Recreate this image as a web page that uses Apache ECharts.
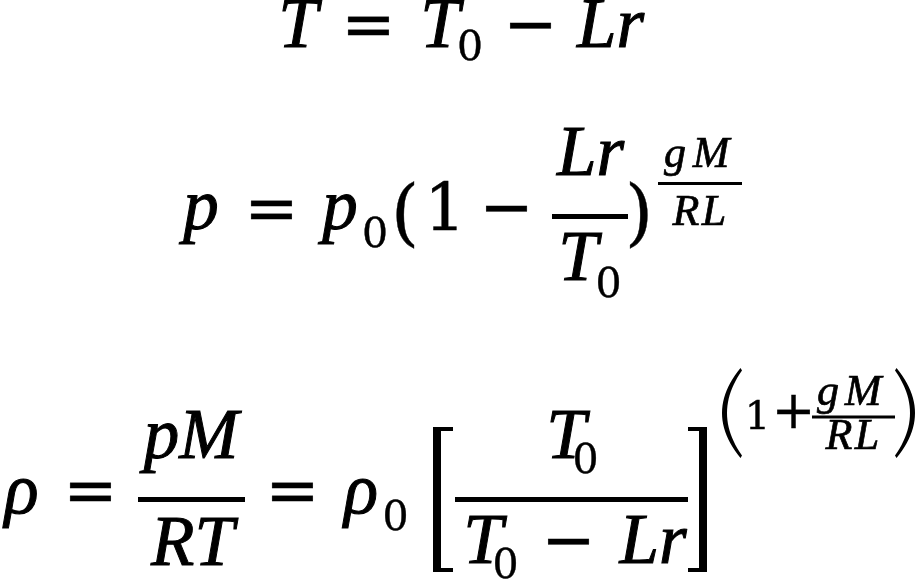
<!DOCTYPE html>
<html>
<head>
<meta charset="utf-8">
<script src="https://cdn.jsdelivr.net/npm/echarts@6/dist/echarts.min.js"></script>
<style>
  html, body { margin: 0; padding: 0; background: #fff; }
  #main { width: 920px; height: 587px; }
</style>
</head>
<body>
<div id="main"></div>
<script>
// symbols of each formula, in reading order
const eq1 = ['T', '=', 'T', '0', '−', 'Lr']
const eq2 = ['p', '=', 'p', '0', '(', '1', '−', 'Lr', 'T', '0', ')', 'g', 'M', 'R', 'L']
const eq3 = ['ρ', '=', 'pM', 'RT', '=', 'ρ', '0', 'T', '0', 'T', '0', '−', 'Lr', '1', '+', 'g', 'M', 'R', 'L']

// italic letters: Liberation Serif, upright digits/operators: DejaVu Serif
const IT = { family: '"Liberation Serif"', k: 0.3375, main: 71, exp: 44 }
const UP = { family: '"DejaVu Serif"', k: 0.346, main: 65, sub: 41, exp: 40 }

// one glyph group, x = centre, base = baseline
function t(str, x, base, size, italic) {
  const f = italic ? IT : UP
  return {
    type: 'text',
    x: x,
    y: base - f.k * size,
    style: {
      text: str,
      font: (italic ? 'italic ' : '') + size + 'px ' + f.family,
      fill: '#000',
      stroke: '#000',
      lineWidth: italic ? (size > 50 ? 1 : 0.7) : 0.4,
      align: 'center',
      verticalAlign: 'middle',
      textAlign: 'center',
      textVerticalAlign: 'middle',
    },
  }
}

// fraction line
function bar(x0, x1, cy, th) {
  return {
    type: 'rect',
    shape: { x: x0, y: cy - th / 2, width: x1 - x0, height: th },
    style: { fill: '#000' },
  }
}

// stretched paren, as a filled crescent
function paren(x0, x1, top, bot, w, right) {
  const mid = (top + bot) / 2
  const pts = []
  const n = 24
  const q = (a, c, b, s) => (1 - s) * (1 - s) * a + 2 * s * (1 - s) * c + s * s * b
  const ox = x1 - 1.5
  for (let i = 0; i <= n; i++) {
    const s = i / n
    pts.push([q(ox, 2 * x0 - ox, ox, s), q(top, mid, bot, s)])
  }
  const ix = x1
  for (let i = n; i >= 0; i--) {
    const s = i / n
    pts.push([q(ix, 2 * (x0 + w) - ix, ix, s), q(top + 2.5, mid, bot - 2.5, s)])
  }
  if (right) {
    pts.forEach(p => { p[0] = x0 + x1 - p[0] })
  }
  return { type: 'polygon', shape: { points: pts }, style: { fill: '#000' } }
}

// stretched square bracket
function bracket(x0, x1, top, bot, right) {
  const sw = 8
  const aw = 4
  const vx = right ? x1 - sw : x0
  return [
    { type: 'rect', shape: { x: vx, y: top, width: sw, height: bot - top }, style: { fill: '#000' } },
    { type: 'rect', shape: { x: x0, y: top, width: x1 - x0, height: aw }, style: { fill: '#000' } },
    { type: 'rect', shape: { x: x0, y: bot - aw, width: x1 - x0, height: aw }, style: { fill: '#000' } },
  ]
}

const M = IT.main
const E = IT.exp
const els = []

// T = T0 - Lr
els.push(
  t(eq1[0], 298, 52, M, true),
  t(eq1[1], 368.5, 52, UP.main),
  t(eq1[2], 440, 52, M, true),
  t(eq1[3], 470, 64, UP.sub),
  t(eq1[4], 530.5, 52, UP.main),
  t(eq1[5], 610.5, 52, M, true)
)

// p = p0 (1 - Lr/T0)^(gM/RL)
els.push(
  t(eq2[0], 201, 234, M, true),
  t(eq2[1], 271.5, 236, UP.main),
  t(eq2[2], 340, 234, M, true),
  t(eq2[3], 375, 251, UP.sub),
  t(eq2[4], 405, 243, 72),
  t(eq2[5], 445, 236, UP.main),
  t(eq2[6], 506.5, 235, UP.main),
  t(eq2[7], 590.5, 180, M, true),
  bar(552, 628, 216.5, 5),
  t(eq2[8], 578, 285, M, true),
  t(eq2[9], 608.5, 301, UP.sub),
  t(eq2[10], 639, 243, 72),
  t(eq2[11], 675, 170, E, true),
  t(eq2[12], 711, 170, E, true),
  bar(658, 742, 183.5, 3),
  t(eq2[13], 686, 228, E, true),
  t(eq2[14], 714, 228, E, true)
)

// rho = pM/RT = rho0 [T0/(T0 - Lr)]^(1 + gM/RL)
els.push(
  t(eq3[0], 21.5, 518, M, true),
  t(eq3[1], 90.5, 518, UP.main),
  t(eq3[2], 191, 463, M, true),
  bar(138, 245, 499.5, 5),
  t(eq3[3], 192.5, 570, M, true),
  t(eq3[4], 292.5, 518, UP.main),
  t(eq3[5], 361, 518, M, true),
  t(eq3[6], 395.5, 534, UP.sub),
  ...bracket(433, 453, 427, 572, false),
  t(eq3[7], 566, 463, M, true),
  t(eq3[8], 585.5, 477, UP.sub),
  bar(455, 688, 499.5, 5),
  t(eq3[9], 483, 568, M, true),
  t(eq3[10], 505.5, 582, UP.sub),
  t(eq3[11], 568.5, 568, UP.main),
  t(eq3[12], 653, 568, M, true),
  ...bracket(688, 707, 427, 572, true),
  paren(722, 742, 368, 458, 5, false),
  t(eq3[13], 757.5, 432, UP.exp),
  t(eq3[14], 793.5, 432, 52),
  t(eq3[15], 828, 408, E, true),
  t(eq3[16], 863, 408, E, true),
  bar(812, 895, 417, 3),
  t(eq3[17], 839, 452, E, true),
  t(eq3[18], 867, 452, E, true),
  paren(895, 915, 368, 458, 5, true)
)

const chart = echarts.init(document.getElementById('main'))
chart.setOption({
  backgroundColor: '#fff',
  animation: false,
  graphic: { elements: els },
})
</script>
</body>
</html>
